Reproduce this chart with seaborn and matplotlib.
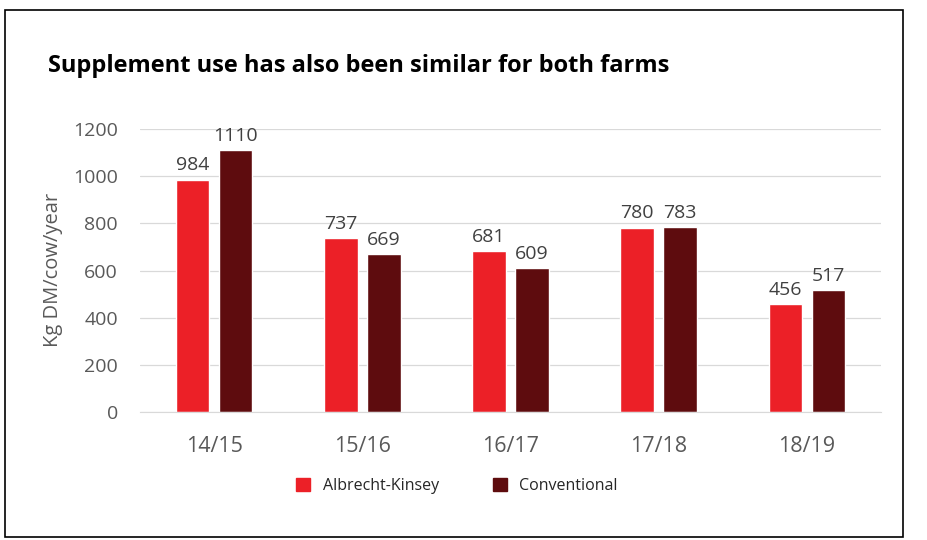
import pandas as pd
import seaborn as sns
import matplotlib.pyplot as plt
from matplotlib.patches import Rectangle

# Datos
temporadas = ["14/15", "15/16", "16/17", "17/18", "18/19"]
albrecht = [984, 737, 681, 780, 456]
convencional = [1110, 669, 609, 783, 517]
series = ["Albrecht-Kinsey", "Conventional"]
colores = ["#EC2027", "#5E0C0E"]

df = pd.DataFrame({
    "temporada": temporadas * 2,
    "valor": albrecht + convencional,
    "serie": [series[0]] * len(temporadas) + [series[1]] * len(temporadas),
})

sns.set_style("white")
plt.rcParams["font.family"] = ["Open Sans", "DejaVu Sans"]

fig = plt.figure(figsize=(9.27, 5.40), dpi=100)
ax = fig.add_axes([140 / 927, 128 / 540, 741 / 927, 283 / 540])

sns.barplot(data=df, x="temporada", y="valor", hue="serie", palette=colores,
            width=0.58, gap=0.22, saturation=1, ax=ax, legend=False)

for cont in ax.containers:
    ax.bar_label(cont, padding=4, fontsize=14, color="#404040")

ax.set_xlim(-0.5, 4.5)
ax.set_ylim(0, 1200)
ax.set_yticks(range(0, 1201, 200))
ax.yaxis.grid(True, color="#D9D9D9", linewidth=0.9)
ax.set_axisbelow(True)
for s in ["top", "right", "left"]:
    ax.spines[s].set_visible(False)
ax.spines["bottom"].set_color("#D9D9D9")
ax.tick_params(axis="y", length=0, pad=16, labelsize=14, labelcolor="#595959")
ax.tick_params(axis="x", length=0, pad=17, labelsize=15.5, labelcolor="#595959")
ax.set_xlabel("")
ax.set_ylabel("Kg DM/cow/year", fontsize=14.5, color="#595959")
ax.yaxis.set_label_coords((63 - 140) / 741, (540 - 270 - 128) / 283)

fig.text(48 / 927, 1 - 66 / 540, "Supplement use has also been similar for both farms",
         fontsize=17, fontweight="bold", color="black", va="center", ha="left")

# Leyenda
handles = [Rectangle((0, 0), 1, 1, color=c) for c in colores]
fig.legend(handles, series, loc="center", bbox_to_anchor=(457 / 927, 1 - 486 / 540),
           ncol=2, frameon=False, fontsize=11.5, handlelength=0.85, handleheight=0.85,
           columnspacing=3.4, handletextpad=0.8)

# Marco
fig.patches.append(Rectangle((5 / 927, 3 / 540), 898 / 927, 527 / 540,
                             transform=fig.transFigure, fill=False,
                             edgecolor="black", linewidth=1.2))

fig.savefig("out.png", dpi=100)
